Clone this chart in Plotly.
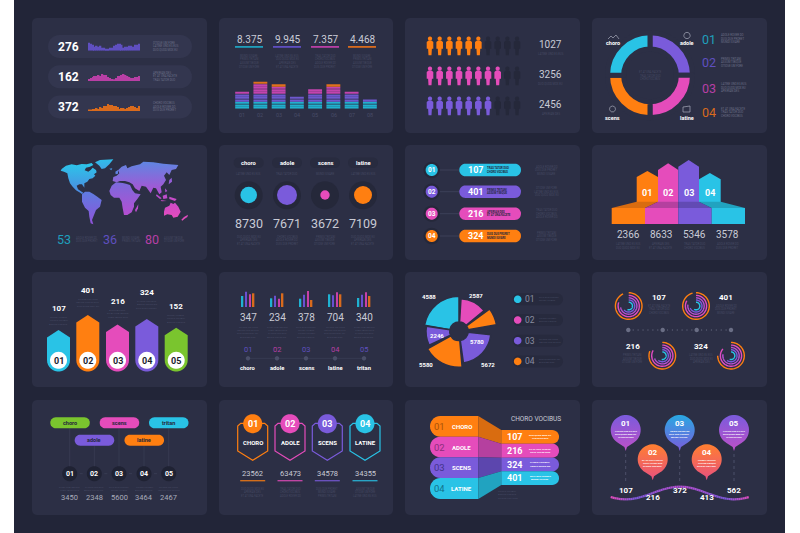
import numpy as np
import plotly.graph_objects as go

# ---------- data ----------
names = ["choro", "adole", "scens", "latine", "tritan"]
ids = ["01", "02", "03", "04", "05"]

p1_totals = [276, 162, 372]
spark_purple = [8, 7, 6, 4, 5, 4, 5, 3, 3, 2, 2, 3, 3, 5, 6, 7, 7, 6, 3, 4, 4, 5, 5, 4, 6, 6, 7]
spark_magenta = [2, 3, 4, 5, 5, 6, 5, 7, 6, 6, 4, 3, 2, 1, 3, 5, 5, 6, 7, 6, 5, 4, 3, 3, 4, 4, 5]
spark_orange = [1, 1, 2, 2, 3, 2, 4, 3, 5, 5, 7, 6, 6, 5, 5, 4, 2, 3, 3, 2, 3, 4, 5, 5, 4, 3, 5]

p2_heads = ["8.375", "9.945", "7.357", "4.468"]
eq_labels = ["01", "02", "03", "04", "05", "06", "07", "08"]
eq_cyan = [3, 3, 3, 3, 3, 3, 3, 3]
eq_purple = [3, 3, 3, 2, 3, 3, 3, 1]
eq_magenta = [1, 4, 3, 0, 2, 3, 1, 0]
eq_orange = [0, 1, 1, 0, 0, 1, 0, 0]

people_values = [1027, 3256, 2456]
people_filled = [6, 8, 7]
people_total = 10

donut_labels = ["adole", "latine", "scens", "choro"]
donut_values = [25, 25, 25, 25]

map_numbers = ["53", "36", "80"]

dot_values = [8730, 7671, 3672, 7109]
dot_sizes = [8.3, 10, 4.7, 9]

pill_values = [107, 401, 216, 324]
chevron_values = [2366, 8633, 5346, 3578]

arrow_values = [107, 401, 216, 324, 152]

group_totals = [347, 234, 378, 704, 340]
group_cyan = [11, 8.7, 8.3, 12.7, 9]
group_purple = [15.3, 11.3, 12.3, 11.7, 12.3]
group_magenta = [12.7, 8.3, 16, 14.7, 14.7]
group_orange = [13.7, 13.7, 7, 12.7, 11]

pie_labels = ["4588", "2587", "2246", "5780", "5580", "5672"]
pie_radius = [35, 32.5, 38, 32, 36, 33]
pie_theta = [320, 27, 67, 134, 208, 262]
pie_width = [80, 47, 26, 76, 66, 34]
pie_colors_key = ["cyan", "magenta", "orange", "purple", "orange", "purple"]

ring_values = [107, 401, 216, 324]
ring_sweeps = [
    [335, 290, 260, 230, 200],
    [345, 300, 280, 250, 210],
    [290, 300, 250, 220, 190],
    [270, 310, 280, 220, 200],
]

tag_values = [3450, 2348, 5600, 3464, 2467]
shield_values = [23562, 63473, 34578, 34355]
band_values = [107, 216, 324, 401]
pin_values = [107, 216, 372, 413, 562]

filler = [
    "OTIOSE UM FORE", "LATINE UNO ES EUS", "DUO QUOD MOX EU", "APEIRIAN DES",
    "ET AT UNA FACETE", "TRAS TATOR DUO", "CHORO VOCIBUS", "ADOLE ROVER DO",
    "DUIS DUE PRORET", "MUNDI IUVARE", "PRIMIS TRITANI", "ASSUM TIBIQUE",
]

# ---------- palette ----------
BG = "#222538"
PANEL = "#2c2f45"
DARK = "#25283a"
CYAN = "#29C3E6"
PURPLE = "#7A5BDB"
MAGENTA = "#E54CBB"
ORANGE = "#FF7F11"
GREEN = "#7AC52E"
D_CYAN = "#1F9FBC"
D_PURPLE = "#5F4FC0"
D_MAGENTA = "#B83FA5"
D_ORANGE = "#D96B1D"
GREY = "#c9cbd6"
FILL_TXT = "#464a63"
FILL_LIGHT = "#6c7088"
NUMF = "Roboto"
SANS = "Roboto"
COL = dict(cyan=CYAN, magenta=MAGENTA, purple=PURPLE, orange=ORANGE)

W, H = 800, 533
fig = go.Figure()
annotations = []
extra_axes = {}
n_axes = [1]
n_polar = [0]


def poly(pts, fill, line=None, lw=0, grad=None):
    xs = [p[0] for p in pts] + [pts[0][0]]
    ys = [p[1] for p in pts] + [pts[0][1]]
    kw = {}
    if grad:
        kw["fillgradient"] = dict(type="vertical", colorscale=[[0, grad[0]], [1, grad[1]]],
                                  start=min(ys), stop=max(ys))
    else:
        kw["fillcolor"] = fill
    fig.add_trace(go.Scatter(x=xs, y=ys, mode="lines" if lw else "none", fill="toself",
                             line=dict(color=line or fill, width=lw) if lw else None,
                             hoverinfo="skip", showlegend=False, xaxis="x", yaxis="y", **kw))


def line(pts, color, lw=1, dash=None):
    fig.add_trace(go.Scatter(x=[p[0] for p in pts], y=[p[1] for p in pts], mode="lines",
                             line=dict(color=color, width=lw, dash=dash),
                             hoverinfo="skip", showlegend=False, xaxis="x", yaxis="y"))


def arc(cx, cy, r, a0=0, a1=360, n=28):
    t = np.radians(np.linspace(a0, a1, n))
    return [(cx + r * np.sin(v), cy - r * np.cos(v)) for v in t]


def circle(cx, cy, r, fill, **kw):
    poly(arc(cx, cy, r, 0, 360, 36)[:-1], fill, **kw)


def rrect(x0, y0, x1, y1, r, left=True, right=True):
    pts = []
    if left:
        pts += arc(x0 + r, y1 - r, r, 180, 270, 8) + arc(x0 + r, y0 + r, r, 270, 360, 8)
    else:
        pts += [(x0, y1), (x0, y0)]
    if right:
        pts += arc(x1 - r, y0 + r, r, 0, 90, 8) + arc(x1 - r, y1 - r, r, 90, 180, 8)
    else:
        pts += [(x1, y0), (x1, y1)]
    return pts


def text(x, y, s, size, color="#ffffff", bold=False, font=SANS, anchor="center"):
    annotations.append(dict(x=x, y=y, xref="x", yref="y", text=str(s), showarrow=False,
                            xanchor=anchor, yanchor="middle", borderpad=0, borderwidth=0,
                            font=dict(family=font, size=size, color=color,
                                      weight=700 if bold else 400)))


fill_i = [0]


def fill_lines(x, y, lines=3, anchor="center", dy=3.7, size=3.0, color=FILL_TXT, bold=False):
    for k in range(lines):
        text(x, y + k * dy, filler[fill_i[0] % len(filler)], size, color, bold, SANS, anchor)
        fill_i[0] += 1


def axes(x0, ytop, x1, ybot, xr, yr):
    n_axes[0] += 1
    n = n_axes[0]
    extra_axes[f"xaxis{n}"] = dict(domain=[x0 / W, x1 / W], range=xr, visible=False,
                                   fixedrange=True, anchor=f"y{n}")
    extra_axes[f"yaxis{n}"] = dict(domain=[1 - ybot / H, 1 - ytop / H], range=yr, visible=False,
                                   fixedrange=True, anchor=f"x{n}")
    return f"x{n}", f"y{n}"


def polar(cx, cy, half, rmax, rot=90):
    n_polar[0] += 1
    n = n_polar[0]
    key = "polar" if n == 1 else f"polar{n}"
    extra_axes[key] = dict(
        domain=dict(x=[(cx - half) / W, (cx + half) / W], y=[1 - (cy + half) / H, 1 - (cy - half) / H]),
        bgcolor="rgba(0,0,0,0)",
        radialaxis=dict(visible=False, range=[0, rmax]),
        angularaxis=dict(visible=False, rotation=rot, direction="clockwise"),
    )
    return key


# ---------- background ----------
poly([(14, 0), (785, 0), (785, 533), (14, 533)], BG)
for y0, y1 in [(18, 133), (145, 260), (272, 387), (400, 515)]:
    for x0, x1 in [(32, 207), (219, 393), (405, 580), (592, 767)]:
        poly(rrect(x0, y0, x1, y1, 5), PANEL)

# ---------- panel 1: sparkline pills ----------
sparks = [(spark_purple, D_PURPLE), (spark_magenta, D_MAGENTA), (spark_orange, D_ORANGE)]
for i, (vals, colr) in enumerate(sparks):
    y0 = 35 + i * 30.2
    poly(rrect(48, y0, 192, y0 + 23, 11.5), "#33364f")
    text(68, y0 + 12, p1_totals[i], 12, "#ffffff", True)
    ax, ay = axes(88, y0 + 7, 140, y0 + 15.7, [-0.5, len(vals) - 0.5], [0, 8.7])
    fig.add_trace(go.Bar(x=list(range(len(vals))), y=vals, width=0.8, marker=dict(color=colr, line_width=0),
                         xaxis=ax, yaxis=ay, hoverinfo="skip", showlegend=False))
    fill_lines(153, y0 + 7.5, 3, "left", 3.7, 2.8, FILL_LIGHT)

# ---------- panel 2: equaliser ----------
hcx = [249, 287, 325, 362]
hcol = [D_CYAN, D_PURPLE, D_MAGENTA, D_ORANGE]
for c, h, colr in zip(hcx, p2_heads, hcol):
    text(c, 39.5, h, 10, GREY, False, NUMF)
    poly([(c - 14, 46), (c + 14, 46), (c + 14, 47.8), (c - 14, 47.8)], colr)
    fill_lines(c, 55.5, 4, dy=3.8, size=2.6)
ax, ay = axes(233, 80.7, 379, 108.7, [-0.5, 7.5], [0, 11])
for col_i in range(8):
    seq = (["#20B0CE"] * eq_cyan[col_i] + ["#6E58CE"] * eq_purple[col_i]
           + ["#C244AE"] * eq_magenta[col_i] + ["#E0701C"] * eq_orange[col_i])
    fig.add_trace(go.Bar(x=[col_i] * len(seq), y=[0.62] * len(seq), base=list(range(len(seq))),
                         width=0.76, marker=dict(color=seq, line_width=0),
                         xaxis=ax, yaxis=ay, hoverinfo="skip", showlegend=False))
for i, lab in enumerate(eq_labels):
    text(242 + i * 18.3, 114.5, lab, 5.5, "#474b65", False, NUMF)

# ---------- panel 3: people ----------
person = [(-1.5, 3.9), (1.5, 3.9), (3.3, 5.3), (3.3, 12), (1.9, 12), (1.5, 18.6), (-1.5, 18.6), (-1.9, 12),
          (-3.3, 12), (-3.3, 5.3)]
pcol = [ORANGE, MAGENTA, PURPLE]
for r, (v, nf) in enumerate(zip(people_values, people_filled)):
    y0 = 36.7 + r * 30
    for i in range(people_total):
        c = 430 + i * 9.67
        colr = pcol[r] if i < nf else "#25283a"
        circle(c, y0 + 1.9, 2.1, colr)
        poly([(c + a, y0 + b) for a, b in person], colr)
    text(550.7, y0 + 7.5, v, 10, GREY, False, NUMF)
    fill_lines(550.7, y0 + 17.5, 1, size=2.8)

# ---------- panel 4: donut ----------
fig.add_trace(go.Pie(labels=donut_labels, values=donut_values, sort=False, direction="clockwise", rotation=0,
                     hole=0.62, textinfo="none", hoverinfo="skip", showlegend=False,
                     marker=dict(colors=[PURPLE, MAGENTA, ORANGE, CYAN], line=dict(color=PANEL, width=5)),
                     domain=dict(x=[(650 - 42.5) / W, (650 + 42.5) / W], y=[1 - (75.3 + 42.5) / H, 1 - (75.3 - 42.5) / H])))
fill_lines(650, 72, 3, size=2.6, dy=3.5)
text(612.5, 43, "choro", 5.5, "#ffffff", True)
text(687, 43, "adole", 5.5, "#ffffff", True)
text(612.5, 118, "scens", 5.5, "#ffffff", True)
text(687, 118, "latine", 5.5, "#ffffff", True)
line([(608, 39), (611, 36), (613, 38), (616, 35), (619, 39)], "#a8abba", 0.7)
line(arc(687, 35.5, 3.2), "#a8abba", 0.7)
line(arc(612.5, 109, 3), "#a8abba", 0.7)
line([(683, 107), (690, 106), (690, 112), (683, 112), (683, 107)], "#a8abba", 0.7)
for i, c in enumerate(hcol):
    y = [39, 62.5, 88, 112.5][i]
    text(708.5, y, ids[i], 12.5, c, False, NUMF)
    fill_lines(721, y - 4, 3, "left", 3.7, 2.8, FILL_LIGHT)


# ---------- panel 5: map ----------
def m(pts):
    return [(50 + a / 3, 155 + b / 3) for a, b in pts]


continents = [
    ([(35, 42), (48, 32), (65, 28), (80, 31), (95, 27), (110, 28), (125, 24), (130, 30), (120, 35), (108, 38),
      (104, 46), (115, 50), (122, 45), (128, 38), (138, 45), (140, 52), (132, 58), (136, 62), (128, 70), (118, 72),
      (112, 80), (103, 85), (103, 98), (96, 88), (88, 88), (80, 92), (84, 103), (95, 110), (100, 113), (96, 117),
      (88, 112), (78, 106), (68, 95), (60, 85), (55, 70), (52, 55), (42, 50), (32, 47)], "#2BC6EA", "#4F87E0"),
    ([(135, 22), (150, 15), (190, 13), (178, 28), (165, 40), (155, 42), (148, 32)], "#2FBEEA", "#3FA6E6"),
    ([(178, 41), (187, 40), (184, 46)], "#4C96E4", "#4C96E4"),
    ([(96, 118), (105, 110), (118, 110), (130, 117), (142, 125), (155, 135), (150, 155), (138, 165), (132, 180),
      (126, 195), (130, 208), (122, 205), (118, 185), (116, 168), (105, 158), (96, 140)], "#5E7CE0", "#9052DA"),
    ([(178, 108), (185, 92), (198, 82), (218, 84), (228, 86), (240, 90), (247, 105), (255, 115), (272, 118),
      (262, 132), (252, 145), (252, 155), (245, 172), (232, 180), (222, 180), (218, 160), (215, 140), (208, 128),
      (192, 128), (182, 120)], "#7A6ADC", "#B44ED0"),
    ([(188, 78), (190, 66), (200, 62), (208, 55), (204, 46), (215, 35), (228, 30), (232, 40), (245, 34), (270, 28),
      (280, 20), (310, 22), (340, 26), (385, 30), (378, 42), (365, 45), (358, 60), (350, 52), (342, 62), (348, 75),
      (340, 88), (332, 95), (335, 112), (328, 118), (318, 100), (310, 98), (302, 115), (295, 105), (288, 95),
      (275, 92), (268, 108), (255, 100), (248, 88), (238, 82), (225, 78), (210, 78), (200, 82)], "#5F86E2", "#B04ED2"),
    ([(196, 50), (204, 45), (204, 56), (197, 58)], "#5E84E2", "#6080E0"),
    ([(320, 118), (335, 130), (330, 132), (318, 122)], "#B04FD0", "#C04CCC"),
    ([(338, 122), (350, 118), (352, 130), (340, 132)], "#B44ED0", "#C64CC8"),
    ([(358, 125), (380, 132), (375, 138), (358, 132)], "#C04CCC", "#CE4BC6"),
    ([(345, 100), (352, 108), (346, 112)], "#A852D2", "#B04ED0"),
    ([(332, 135), (350, 138), (335, 139)], "#C64CC8", "#CC4BC6"),
    ([(358, 75), (365, 68), (366, 80), (356, 88)], "#8F60D8", "#9A5CD8"),
    ([(255, 165), (265, 148), (264, 160), (258, 172)], "#B84ECE", "#C04CCC"),
    ([(342, 170), (345, 158), (358, 152), (362, 143), (370, 147), (375, 143), (385, 155), (392, 170), (383, 185),
      (370, 188), (365, 180), (352, 178), (342, 182)], "#CC4BC8", "#E44CBC"),
    ([(394, 194), (402, 186), (414, 179), (412, 186), (403, 192), (397, 197)], "#DC4BC0", "#E44CBC"),
]
for pts, c1, c2 in continents:
    poly(m(pts), c1, grad=(c1, c2))
for x, s, c in zip([64, 110, 152], map_numbers, [D_CYAN, D_PURPLE, D_MAGENTA]):
    text(x, 239, s, 12.5, c, False, NUMF)
    fill_lines(x + 12, 237.5, 2, "left", 3.5, 2.6)

# ---------- panel 6: dots ----------
dcx = [248.7, 287, 325, 363]
dcol = [CYAN, PURPLE, MAGENTA, ORANGE]
for i, c in enumerate(dcx):
    poly(rrect(c - 15, 157.5, c + 15, 168, 5), "#282b3f")
    text(c, 162.8, names[i], 5.8, "#ffffff", True)
    fill_lines(c, 173.5, 1, size=2.7)
    circle(c, 195.3, 14, DARK)
    text(c, 223.7, dot_values[i], 12.5, GREY, False, NUMF)
    fill_lines(c, 236.5, 3, dy=3.5, size=2.7)
ax, ay = axes(219, 175, 393, 215, [219, 393], [-20, 20])
fig.add_trace(go.Scatter(x=dcx, y=[0] * 4, mode="markers",
                         marker=dict(size=[2 * s for s in dot_sizes], color=dcol, line_width=0, opacity=1),
                         xaxis=ax, yaxis=ay, hoverinfo="skip", showlegend=False))

# ---------- panel 7: pills ----------
rows = [170, 191.7, 213.7, 236]
for y, v, c, lab in zip(rows, pill_values, [CYAN, PURPLE, MAGENTA, ORANGE], ids):
    line([(438, y), (460, y)], "#3c4058", 1)
    circle(431.7, y, 8.2, DARK)
    circle(431.7, y, 6, c)
    text(431.7, y + 0.3, lab, 6.5, "#ffffff", True)
    poly(rrect(459.3, y - 6.3, 521, y + 6.3, 6.3), c)
    text(475.7, y + 0.3, v, 9, "#ffffff", True)
    fill_lines(487, y - 1.7, 2, "left", 3.4, 2.7, "#23263a", True)
    fill_lines(546.7, y - 3.5, 3, dy=3.6, size=2.7)

# ---------- panel 8: chevrons ----------
band_x = [611.7, 645, 678.3, 711.7, 745]
ccol = [ORANGE, MAGENTA, PURPLE, CYAN]
arrow_box = [(636.7, 658, 171, 177), (658, 678.3, 163.3, 170), (678.3, 699, 160, 166.7), (699, 720.7, 173, 179.3)]
for i, (x0, x1, apex, sh) in enumerate(arrow_box):
    poly([(x0, 202), (x0, sh), ((x0 + x1) / 2, apex), (x1, sh), (x1, 202)], ccol[i])
    poly([(band_x[i], 208), (band_x[i + 1], 208), (band_x[i + 1], 224), (band_x[i], 224)], ccol[i])
    text((x0 + x1) / 2, 192.5, ids[i], 9, "#ffffff", True)
    text(628 + i * 33.3, 234, chevron_values[i], 10, GREY, False, NUMF)
    fill_lines(628 + i * 33.3, 243.5, 2, dy=4, size=2.7)
shade = [
    ([(611.7, 208), (636.7, 201.7), (658, 201.7), (645, 208)], "#D96C10"),
    ([(645, 208), (658, 201.7), (678.3, 201.7), (678.3, 208)], "#B5409F"),
    ([(678.3, 208), (678.3, 201.7), (699, 201.7), (711.7, 208)], "#624AB4"),
    ([(711.7, 208), (699, 201.7), (720.7, 201.7), (745, 208)], "#21A3C0"),
]
for pts, c in shade:
    poly(pts, c)

# ---------- panel 9: arrows ----------
ax_x = [47, 76.3, 106, 135.3, 164.7]
acol = [CYAN, ORANGE, MAGENTA, PURPLE, GREEN]
lab_y = [308, 290, 301, 292, 306]
for i, v in enumerate(arrow_values):
    x0, x1 = ax_x[i], ax_x[i] + 23
    top = 335.5 - 0.051 * v
    pts = [((x0 + x1) / 2, top), (x1, top + 7.5)] + arc(x1 - 11.5, 360, 11.5, 90, 270, 16) + [(x0, top + 7.5)]
    poly(pts, acol[i])
    circle((x0 + x1) / 2, 360.3, 8.5, "#ffffff")
    text((x0 + x1) / 2, 360.5, ids[i], 9, "#1c1e2e", True)
    text((x0 + x1) / 2, lab_y[i], v, 8, "#ffffff", True)
    fill_lines((x0 + x1) / 2, lab_y[i] + 9, 3, dy=3.5, size=2.5)

# ---------- panel 10: grouped bars ----------
gx = [248, 277, 306, 335, 364]
ax, ay = axes(219, 285, 393, 307, [219, 393], [0, 22])
for j, (vals, c) in enumerate([(group_cyan, "#1FB2D2"), (group_purple, "#6A50D0"),
                               (group_magenta, "#C840A8"), (group_orange, "#D96B1D")]):
    fig.add_trace(go.Bar(x=[g + (j - 1.5) * 3.7 for g in gx], y=vals, width=1.6,
                         marker=dict(color=c, line_width=0), xaxis=ax, yaxis=ay,
                         hoverinfo="skip", showlegend=False))
line([(gx[0], 358.3), (gx[-1], 358.3)], "#3a3e56", 0.8)
for i, c in enumerate(gx):
    text(c, 317, group_totals[i], 10, GREY, False, NUMF)
    fill_lines(c, 327, 4, dy=3.4, size=2.4)
    text(c, 349.7, ids[i], 7.5, D_PURPLE if i % 2 == 0 else D_MAGENTA, False, NUMF)
    circle(c, 358.3, 2.2, "#4a4e68")
    text(c, 368, names[i], 5.8, "#ffffff", True)

# ---------- panel 11: radial pie ----------
pk = polar(459, 331.3, 50, 50)
fig.add_trace(go.Barpolar(r=[v - 9.3 for v in pie_radius], base=9.3, theta=pie_theta, width=pie_width,
                          marker=dict(color=[COL[k] for k in pie_colors_key], line=dict(color=PANEL, width=1.5)),
                          subplot=pk, hoverinfo="skip", showlegend=False))
for lab, (x, y) in zip(pie_labels, [(429, 296), (476, 295), (437, 335), (477, 341), (426, 364), (488, 364)]):
    text(x, y, lab, 6, "#ffffff", True)
for i, c in enumerate([CYAN, MAGENTA, PURPLE, ORANGE]):
    y = 299.3 + i * 20.7
    poly(rrect(512.7, y - 6, 563, y + 6, 6), "#272a3e")
    circle(517.7, y, 3.8, c)
    text(530, y, ids[i], 8.5, "#8a8da0", False, NUMF)
    fill_lines(539, y - 1.7, 2, "left", 3.2, 2.4)

# ---------- panel 12: rings ----------
ring_c = [(628.7, 306), (696, 306), (662.3, 355.7), (731, 355.7)]
ring_col = [ORANGE, "#E04CC0", "#B450D0", "#7A5BDB", CYAN]
ring_r = [13.3, 10.6, 8.2, 6, 3.8]
for i, (cx, cy) in enumerate(ring_c):
    pk = polar(cx, cy, 15, 15)
    for j, sw in enumerate(ring_sweeps[i]):
        th = np.linspace(0, sw, 50)
        fig.add_trace(go.Scatterpolar(r=[ring_r[j]] * 50, theta=th, mode="lines",
                                      line=dict(color=ring_col[j], width=1.4), subplot=pk,
                                      hoverinfo="skip", showlegend=False))
for (x, y), v in zip([(659, 297.3), (726, 297.3), (632.7, 346.7), (701, 346.7)], ring_values):
    text(x, y, v, 8, "#ffffff", True)
    fill_lines(x, y + 8.5, 3, dy=3.5, size=2.6)
dots = [628.3, 662.7, 696.7, 731]
for d in dots:
    circle(d, 330, 2.2, "#6a6e85")
for a, b in zip(dots[:-1], dots[1:]):
    for k in range(1, 7):
        circle(a + (b - a) * k / 7, 330, 0.6, "#6a6e85")

# ---------- panel 13: tags ----------
tag_boxes = [(50.3, 417.3, GREEN, "choro", 69.7), (74.7, 434.7, PURPLE, "adole", 94.3), (99.7, 417.3, MAGENTA, "scens", 119),
             (124.5, 434.7, ORANGE, "latine", 144), (149, 417.3, CYAN, "tritan", 168.7)]
for i, (x0, y0, c, nm, lx) in enumerate(tag_boxes):
    line([(lx, y0 + 11), (lx, 470)], "#3e4259", 0.6)
    poly(rrect(x0, y0, x0 + 39.5, y0 + 11, 5.5), c)
    text(x0 + 19.7, y0 + 5.5, nm, 5.5, "#25283a", True)
    circle(lx, 473.7, 7.5, "#1f2233")
    text(lx, 474, ids[i], 7, "#ffffff", True)
    fill_lines(lx, 487, 2, dy=3.3, size=2.4)
    text(lx, 497.7, tag_values[i], 7.5, "#a8abba", False, NUMF)
    if i < 4:
        line([(lx + 10, 473.7), (lx + 14.5, 473.7)], "#3e4259", 0.7, "dot")

# ---------- panel 14: shields ----------
sx = [252.7, 290, 327.3, 365]
scol = [ORANGE, MAGENTA, PURPLE, CYAN]
for i, c in enumerate(sx):
    a = [(c + 6, 423.3), (c + 12, 423.3), (c + 15, 426), (c + 15, 451), (c, 460.3), (c - 15, 451), (c - 15, 426),
         (c - 12, 423.3), (c - 6, 423.3)]
    line(a, scol[i], 1.2)
    circle(c, 423.7, 9.5, scol[i])
    text(c, 424, ids[i], 9, "#ffffff", True)
    text(c, 442.3, names[i].upper(), 6, "#ffffff", True)
    text(c, 473, shield_values[i], 7.5, GREY, False, NUMF)
    poly([(c - 12.5, 480.2), (c + 12.5, 480.2), (c + 12.5, 481.3), (c - 12.5, 481.3)], scol[i])
    fill_lines(c, 488.5, 3, dy=3.6, size=2.6)

# ---------- panel 15: bands ----------
by = [416, 436.7, 457.3, 478, 499]
ry = [430, 443.7, 457.7, 471.3, 485]
bcol = [ORANGE, MAGENTA, PURPLE, CYAN]
dbcol = ["#D96C10", "#B5409F", "#5C46AE", "#21A3C0"]
numc = ["#A85208", "#8C2F7C", "#43338A", "#13718A"]
for i in range(4):
    poly(rrect(430, by[i], 478.3, by[i + 1], 10.3, True, False), bcol[i])
    poly([(478.3, by[i]), (501.3, ry[i]), (501.3, ry[i + 1]), (478.3, by[i + 1])], dbcol[i])
    poly(rrect(501.3, ry[i], 559, ry[i + 1], 6.8, False, True), bcol[i])
    text(439.7, (by[i] + by[i + 1]) / 2, ids[i], 9.5, numc[i], False, NUMF)
    text(461.7, (by[i] + by[i + 1]) / 2 + 0.3, names[i].upper(), 6, "#ffffff", True)
    yc = (ry[i] + ry[i + 1]) / 2
    text(514.7, yc, band_values[i], 9, "#ffffff", True)
    fill_lines(540, yc - 1.7, 2, dy=3.4, size=2.5, color="#ffffff", bold=True)
text(535.7, 418.7, "CHORO VOCIBUS", 6.5, GREY, False, SANS)
fill_lines(498, 491.5, 3, "left", 3.3, 2.5)

# ---------- panel 16: pins ----------
pins = [(625.7, 430, "#7B5BDC", "#BE50C8"), (652.7, 459.3, "#FF7F30", "#E85080"), (679.7, 430, "#29A8E2", "#7B5BDC"),
        (706.7, 459.3, "#FF7F30", "#E85080"), (734, 430, "#7B5BDC", "#BE50C8")]
for i, (cx, cy, c1, c2) in enumerate(pins):
    if cy < 440:
        line([(cx, 454), (cx, 482)], "#5a5e78", 0.7, "dot")
    pts = arc(cx, cy, 15, -150, 150, 40) + [(cx + 1.3, cy + 17), (cx, cy + 21), (cx - 1.3, cy + 17)]
    poly(pts, c1, grad=(c1, c2))
    text(cx, cy - 6.5, ids[i], 8, "#ffffff", True)
    fill_lines(cx, cy + 1, 3, dy=3.2, size=2.4, color="#ffffff", bold=True)
# decorative connector under the pins (not a data series)
wx = np.linspace(610.7, 748.7, 70)
wy = 493 + 6.3 * np.cos(2 * np.pi * (wx - 625.7) / 108.2)
for k in range(len(wx) - 1):
    t = (wy[k] - 486.7) / 12.6
    edge = min(1, max(0, (abs(wx[k] - 679.7) - 45) / 25))
    rgb = np.array([176, 80, 208]) * (1 - t) + np.array([122, 91, 219]) * t
    rgb = rgb * (1 - edge) + np.array([229, 76, 187]) * edge
    line([(wx[k], wy[k]), (wx[k + 1], wy[k + 1])], "rgb(%d,%d,%d)" % tuple(rgb), 2.2)
for x, y, v in zip([625.7, 652.7, 679.7, 706.7, 734], [490.5, 497.5, 490.5, 497.5, 490.5], pin_values):
    text(x, y, v, 8, "#ffffff", True)

# ---------- layout ----------
fig.update_layout(
    width=W, height=H, margin=dict(l=0, r=0, t=0, b=0, pad=0), autosize=False,
    paper_bgcolor="#ffffff", plot_bgcolor="rgba(0,0,0,0)", showlegend=False,
    barmode="overlay", dragmode=False, hovermode=False,
    xaxis=dict(range=[0, W], domain=[0, 1], visible=False, fixedrange=True),
    yaxis=dict(range=[H, 0], domain=[0, 1], visible=False, fixedrange=True),
    annotations=annotations, **extra_axes,
)
fig.write_html("out.html", config=dict(displayModeBar=False),
               post_script="document.body.style.margin='0';document.body.style.overflow='hidden';")
